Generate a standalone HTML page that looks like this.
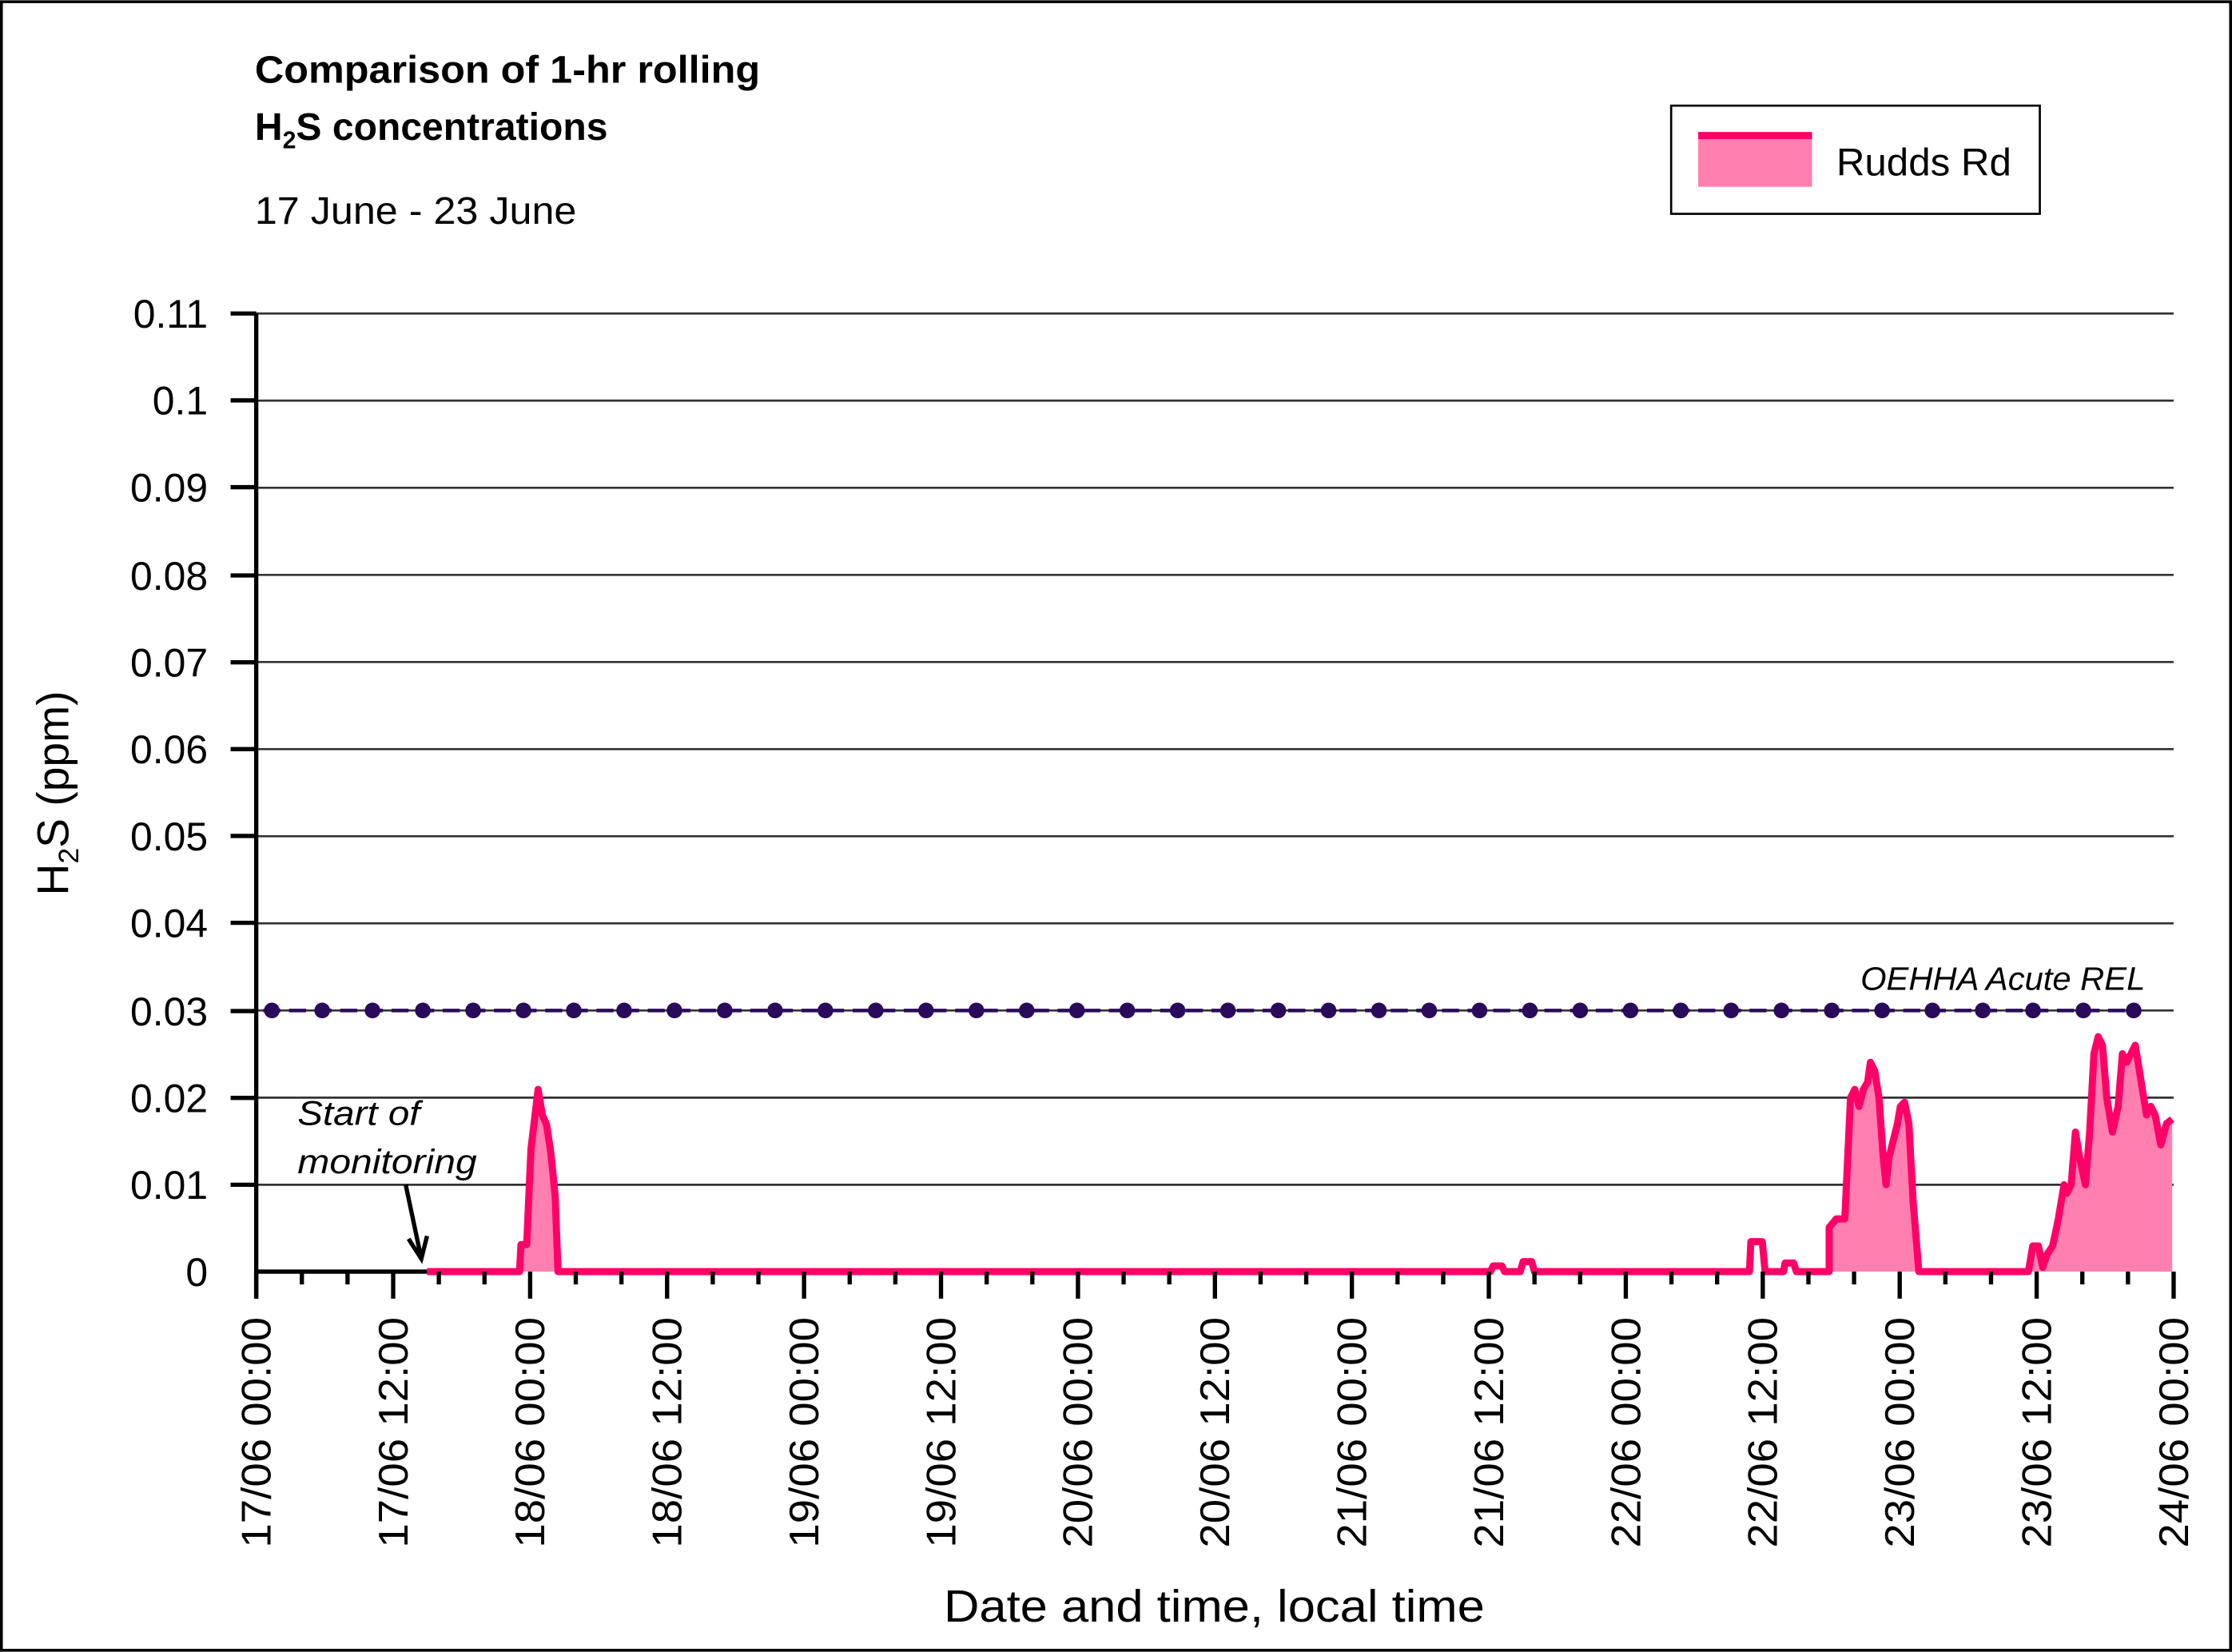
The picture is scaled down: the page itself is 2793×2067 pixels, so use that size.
<!DOCTYPE html>
<html><head><style>body{margin:0;background:#fff}svg{display:block}</style></head><body>
<svg xmlns="http://www.w3.org/2000/svg" width="2793" height="2067" viewBox="0 0 1568 1160" font-family="'Liberation Sans',sans-serif">
<rect x="1" y="1" width="1566" height="1158" fill="#fff" stroke="#000" stroke-width="2"/>
<text x="179" y="58" font-size="27" font-weight="bold" textLength="355" lengthAdjust="spacingAndGlyphs">Comparison of 1-hr rolling</text>
<text x="179" y="98" font-size="27" font-weight="bold">H<tspan font-size="17" dy="6">2</tspan><tspan dy="-6">S concentrations</tspan></text>
<text x="179" y="157" font-size="27" textLength="226" lengthAdjust="spacingAndGlyphs">17 June - 23 June</text>
<rect x="1174" y="74" width="259" height="76" fill="#fff" stroke="#000" stroke-width="1.5"/>
<rect x="1193" y="95" width="80" height="36" fill="#ff80b0"/>
<line x1="1193" y1="95" x2="1273" y2="95" stroke="#ff0066" stroke-width="5"/>
<text x="1290" y="123" font-size="27" textLength="123" lengthAdjust="spacingAndGlyphs">Rudds Rd</text>
<g stroke="#333" stroke-width="1.5">
<line x1="180" y1="220" x2="1527" y2="220"/><line x1="180" y1="281.2" x2="1527" y2="281.2"/><line x1="180" y1="342.4" x2="1527" y2="342.4"/><line x1="180" y1="403.6" x2="1527" y2="403.6"/><line x1="180" y1="464.8" x2="1527" y2="464.8"/><line x1="180" y1="526" x2="1527" y2="526"/><line x1="180" y1="587.2" x2="1527" y2="587.2"/><line x1="180" y1="648.4" x2="1527" y2="648.4"/><line x1="180" y1="709.6" x2="1527" y2="709.6"/><line x1="180" y1="770.8" x2="1527" y2="770.8"/><line x1="180" y1="832" x2="1527" y2="832"/>
</g>
<g font-size="28" text-anchor="end">
<text x="146" y="230">0.11</text><text x="146" y="291">0.1</text><text x="146" y="352">0.09</text><text x="146" y="414">0.08</text><text x="146" y="475">0.07</text><text x="146" y="536">0.06</text><text x="146" y="597">0.05</text><text x="146" y="658">0.04</text><text x="146" y="720">0.03</text><text x="146" y="781">0.02</text><text x="146" y="842">0.01</text><text x="146" y="903">0</text>
</g>
<g stroke="#000" stroke-width="3">
<line x1="162" y1="220" x2="180" y2="220"/><line x1="162" y1="281" x2="180" y2="281"/><line x1="162" y1="342" x2="180" y2="342"/><line x1="162" y1="404" x2="180" y2="404"/><line x1="162" y1="465" x2="180" y2="465"/><line x1="162" y1="526" x2="180" y2="526"/><line x1="162" y1="587" x2="180" y2="587"/><line x1="162" y1="648" x2="180" y2="648"/><line x1="162" y1="710" x2="180" y2="710"/><line x1="162" y1="771" x2="180" y2="771"/><line x1="162" y1="832" x2="180" y2="832"/>
</g>
<text transform="translate(48,557) rotate(-90)" font-size="31" text-anchor="middle">H<tspan font-size="20" dy="7">2</tspan><tspan dy="-7">S (ppm)</tspan></text>
<polygon fill="#ff80b0" points="365,893 366,874 370,874 373,807 378,765 381,783 384,790 387,810 390,840 392,893"/>
<polygon fill="#ff80b0" points="1285,893 1285,862 1290,856 1296,856 1300,771 1303,765 1306,777 1309,765 1312,760 1314,746 1317,752 1320,771 1323,813 1325,832 1327,813 1330,801 1333,789 1335,777 1338,774 1341,789 1344,844 1348,893"/>
<polygon fill="#ff80b0" points="1425,893 1428,875 1432,875 1435,890 1438,881 1442,875 1446,856 1450,832 1452,838 1455,832 1458,795 1461,813 1465,832 1468,795 1471,740 1474,728 1477,734 1480,771 1484,795 1488,777 1491,740 1494,746 1497,740 1500,734 1502,746 1505,765 1508,783 1511,777 1514,783 1518,804 1522,789 1526,786 1526,893"/>
<polyline fill="none" stroke="#ff0066" stroke-width="5" stroke-linejoin="round" points="300,893 365,893 366,874 370,874 373,807 378,765 381,783 384,790 387,810 390,840 392,893 1047,893 1049,889 1055,889 1057,893 1068,893 1070,886 1076,886 1078,893 1229,893 1230,872 1238,872 1240,893 1253,893 1254,887 1260,887 1262,893 1285,893 1285,862 1290,856 1296,856 1300,771 1303,765 1306,777 1309,765 1312,760 1314,746 1317,752 1320,771 1323,813 1325,832 1327,813 1330,801 1333,789 1335,777 1338,774 1341,789 1344,844 1348,893 1425,893 1428,875 1432,875 1435,890 1438,881 1442,875 1446,856 1450,832 1452,838 1455,832 1458,795 1461,813 1465,832 1468,795 1471,740 1474,728 1477,734 1480,771 1484,795 1488,777 1491,740 1494,746 1497,740 1500,734 1502,746 1505,765 1508,783 1511,777 1514,783 1518,804 1522,789 1526,786"/>
<line x1="180" y1="893" x2="300" y2="893" stroke="#000" stroke-width="3"/>
<line x1="180" y1="220" x2="180" y2="912" stroke="#000" stroke-width="3"/>
<g stroke="#000" stroke-width="3" id="ticks"></g>
<line x1="185" y1="709.6" x2="1500" y2="709.6" stroke="#2a0a5a" stroke-width="2.5" stroke-dasharray="12,6"/>
<g fill="#2a0a5a" id="dots"></g>
<text x="1507" y="695" font-size="23" font-style="italic" text-anchor="end" textLength="200" lengthAdjust="spacingAndGlyphs">OEHHA Acute REL</text>
<text x="209" y="790" font-size="24" font-style="italic" textLength="86" lengthAdjust="spacingAndGlyphs">Start of</text>
<text x="209" y="824" font-size="24" font-style="italic" textLength="126" lengthAdjust="spacingAndGlyphs">monitoring</text>
<path d="M285,832 L296,884 M287,870 L296,884 L300,868" stroke="#000" stroke-width="3" fill="none"/>
<g font-size="29" id="xl"></g>
<text x="853" y="1139" font-size="32" text-anchor="middle" textLength="380" lengthAdjust="spacingAndGlyphs">Date and time, local time</text>
<script>
var ns="http://www.w3.org/2000/svg",t=document.getElementById('ticks'),d=document.getElementById('dots'),xl=document.getElementById('xl');
for(var i=0;i<=42;i++){var x=180+i*1347/42,l=document.createElementNS(ns,'line');l.setAttribute('x1',x);l.setAttribute('x2',x);l.setAttribute('y1',893);l.setAttribute('y2',i%3==0?912:902);t.appendChild(l);}
var labs=['17/06 00:00','17/06 12:00','18/06 00:00','18/06 12:00','19/06 00:00','19/06 12:00','20/06 00:00','20/06 12:00','21/06 00:00','21/06 12:00','22/06 00:00','22/06 12:00','23/06 00:00','23/06 12:00','24/06 00:00'];
for(var j=0;j<15;j++){var x=180+j*1347/14+10,e=document.createElementNS(ns,'text');e.setAttribute('transform','translate('+x+',925) rotate(-90)');e.setAttribute('text-anchor','end');e.setAttribute('textLength','162');e.setAttribute('lengthAdjust','spacingAndGlyphs');e.textContent=labs[j];xl.appendChild(e);}
for(var k=0;k<38;k++){var c=document.createElementNS(ns,'circle');c.setAttribute('cx',191+k*35.35);c.setAttribute('cy',709.6);c.setAttribute('r',5.5);d.appendChild(c);}
</script>
</svg>
</body></html>
